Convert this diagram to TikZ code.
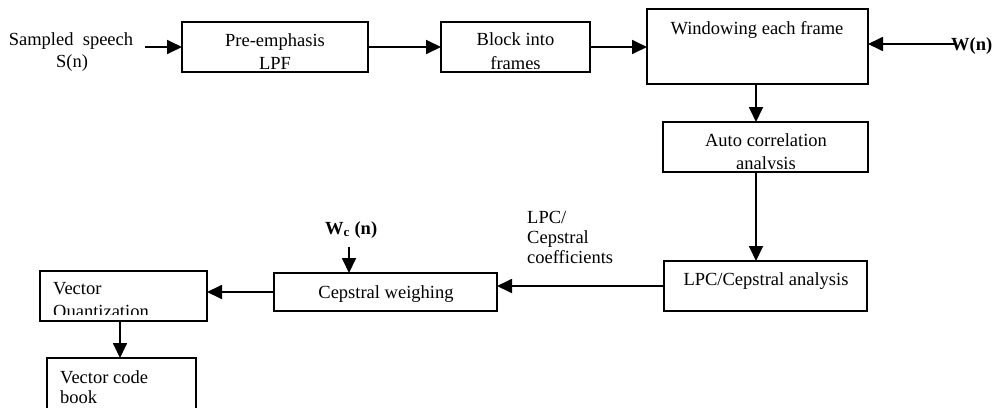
\documentclass[tikz,border=0pt]{standalone}
\usepackage{fontspec}
\setmainfont{Liberation Serif}
\usetikzlibrary{arrows.meta}
\begin{document}
\begin{tikzpicture}[x=1pt,y=-1pt,
  box/.style={draw, line width=1.9pt, rectangle, inner sep=0pt, outer sep=0pt},
  txt/.style={font=\fontsize{18.5}{22}\selectfont, inner sep=0pt, anchor=base},
  ltxt/.style={txt, anchor=base west},
  arr/.style={line width=1.8pt, -{Triangle[length=15pt,width=14pt]}}]
\clip (0,0) rectangle (1006,407);
\fill[white] (0,0) rectangle (1006,407);
% boxes
\node[box, minimum width=186pt, minimum height=50pt] (pre) at (275,47) {};
\node[box, minimum width=149pt, minimum height=50pt] (blk) at (515.5,47) {};
\node[box, minimum width=221pt, minimum height=75pt] (win) at (757.5,46.5) {};
\node[box, minimum width=205pt, minimum height=50pt] (auto) at (765.5,147) {};
\node[box, minimum width=203pt, minimum height=50pt] (lpc) at (765.5,286) {};
\node[box, minimum width=223pt, minimum height=38pt] (cep) at (385.5,292) {};
\node[box, minimum width=167pt, minimum height=50pt] (vq) at (123.5,296) {};
\node[box, minimum width=149pt, minimum height=62pt] (cb) at (121.5,389) {};
% box texts (clipped like the reference)
\begin{scope}
\clip (pre.north west) rectangle ([yshift=4pt]pre.south east);
\node[txt] (preA) at (275,46) {Pre-emphasis};
\node[txt] (preB) at (275,69) {LPF};
\end{scope}
\begin{scope}
\clip (blk.north west) rectangle ([yshift=4pt]blk.south east);
\node[txt] (blkA) at (515.5,45) {Block into};
\node[txt] (blkB) at (515.5,69) {frames};
\end{scope}
\node[txt] (winA) at (757,34) {Windowing each frame};
\begin{scope}
\clip (auto.north west) rectangle ([yshift=4pt]auto.south east);
\node[txt] (autoA) at (766,146) {Auto correlation};
\node[txt] (autoB) at (766,169) {analysis};
\end{scope}
\node[txt] (lpcA) at (766,285) {LPC/Cepstral analysis};
\node[txt] (cepA) at (386,298) {Cepstral weighing};
\begin{scope}
\clip (vq.north west) rectangle ([yshift=7pt]vq.south east);
\node[ltxt] (vqA) at (53,294) {Vector};
\node[ltxt] (vqB) at (53,317) {Quantization};
\end{scope}
\node[ltxt] (cbA) at (60,383) {Vector code};
\node[ltxt] (cbB) at (60,403) {book};
% free labels
\node[txt] (inA) at (71,45) {Sampled\ \ speech};
\node[txt] (inB) at (72,67) {S(n)};
\node[ltxt] (wnl) at (951,50) {\textbf{W(n)}};
\node[ltxt] (wcl) at (325,234) {\textbf{W\textsubscript{c} (n)}};
\node[ltxt] (lcA) at (527,223) {LPC/};
\node[ltxt] (lcB) at (527,243) {Cepstral};
\node[ltxt] (lcC) at (527,263) {coefficients};
% connectors
\coordinate (in) at (145,47);
\coordinate (wn) at (956,44);
\coordinate (wc) at (349,247);
\draw[arr] (in) -- (pre.west);
\draw[arr] (pre.east) -- (blk.west);
\draw[arr] (blk.east) -- (blk.east -| win.west);
\draw[arr] (wn) -- (wn -| win.east);
\draw[arr] ([xshift=-1.5pt]win.south) -- ([xshift=-1.5pt]win.south |- auto.north);
\draw[arr] ([xshift=-1.5pt]win.south |- auto.south) -- ([xshift=-1.5pt]win.south |- lpc.north);
\draw[arr] (lpc.west) -- (lpc.west -| cep.east);
\draw[arr] (wc) -- (wc |- cep.north);
\draw[arr] (cep.west) -- (cep.west -| vq.east);
\draw[arr] ([xshift=-3.5pt]vq.south) -- ([xshift=-3.5pt]vq.south |- cb.north);
\end{tikzpicture}
\end{document}
